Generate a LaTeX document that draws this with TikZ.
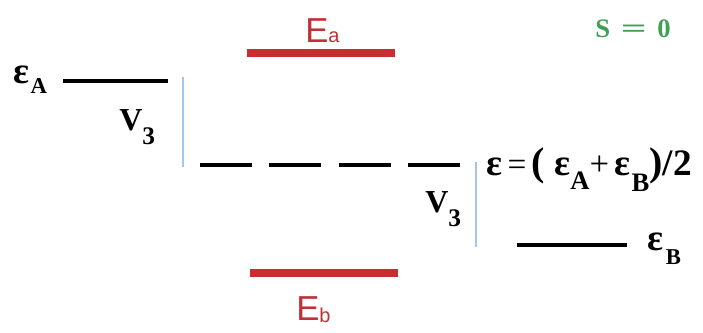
\documentclass[tikz,border=0pt]{standalone}
\usepackage{fontspec}
\setmainfont{Liberation Serif}
\newfontfamily\arialfont{Liberation Sans}
\usepackage{graphicx}
\definecolor{barred}{RGB}{200,45,50}
\definecolor{txtred}{RGB}{190,50,55}
\definecolor{sgreen}{RGB}{65,160,85}
\definecolor{vblue}{RGB}{165,200,225}
\newcommand{\fsz}[1]{\fontsize{#1}{#1}\selectfont}
\newcommand{\eps}{{\fsz{28pt}\bfseries ε}}
\newcommand{\lowsub}[3]{\raisebox{-#1}{\fsz{#2}\bfseries #3}}
\tikzset{
  level/.style={line width=3.6pt, black},
  redbar/.style={line width=6pt, barred},
  vline/.style={line width=1.1pt, vblue},
  dashlevel/.style={line width=3.6pt, black, dash pattern=on 39pt off 13pt},
  lbl/.style={inner sep=0pt, anchor=base west, font=\bfseries\fsz{24pt}},
  elbl/.style={inner sep=0pt, anchor=base west, text=txtred, font=\arialfont\fsz{26pt}}
}
\begin{document}
\begin{tikzpicture}[x=0.75pt,y=-0.75pt]
\useasboundingbox (0,0) rectangle (703,332);
% levels
\coordinate (aL) at (63,81);  \coordinate (aR) at (168,81);
\coordinate (bL) at (517,245); \coordinate (bR) at (627,245);
\coordinate (mL) at (200,165); \coordinate (mR) at (460,165);
\coordinate (EaL) at (247,53); \coordinate (EaR) at (395,53);
\coordinate (EbL) at (250,273); \coordinate (EbR) at (398,273);
\coordinate (v1t) at (183,77); \coordinate (v1b) at (183,167);
\coordinate (v2t) at (476,162); \coordinate (v2b) at (476,247);
\draw[level] (aL) -- (aR);
\draw[level] (bL) -- (bR);
\draw[dashlevel] (mL) -- (mR);
\draw[redbar] (EaL) -- (EaR);
\draw[redbar] (EbL) -- (EbR);
\draw[vline] (v1t) -- (v1b);
\draw[vline] (v2t) -- (v2b);
% labels
\node[lbl] (epsA) at (13,83) {\eps\kern1pt\lowsub{8pt}{17pt}{A}};
\node[lbl] (V3a) at (119,130) {V\lowsub{11pt}{19pt}{3}};
\node[lbl] (V3b) at (425,212) {V\lowsub{11pt}{19pt}{3}};
\node[lbl] (epsB) at (647,250) {\eps\kern2pt\lowsub{11pt}{17pt}{B}};
\node[lbl] (mid) at (486,175) {\eps\kern4pt{\mdseries\fsz{25pt}=}\kern4pt{\fsz{30pt}(}\kern7pt\eps\lowsub{11pt}{20pt}{A}{\mdseries\fsz{26pt}+}\kern4pt\eps\kern1pt\lowsub{12pt}{20pt}{B}{\fsz{30pt})}{\fsz{28pt}/2}};
\node[elbl] (Ea) at (305,42) {E{\fsz{15pt}a}};
\node[elbl] (Eb) at (296,320) {E\raisebox{-2pt}{\fsz{15pt}b}};
\node[lbl, text=sgreen, font=\bfseries\fsz{20pt}] (S) at (595,37) {S\hspace{8pt}\scalebox{1.7}[1]{=}\hspace{8pt}0};
\end{tikzpicture}
\end{document}
